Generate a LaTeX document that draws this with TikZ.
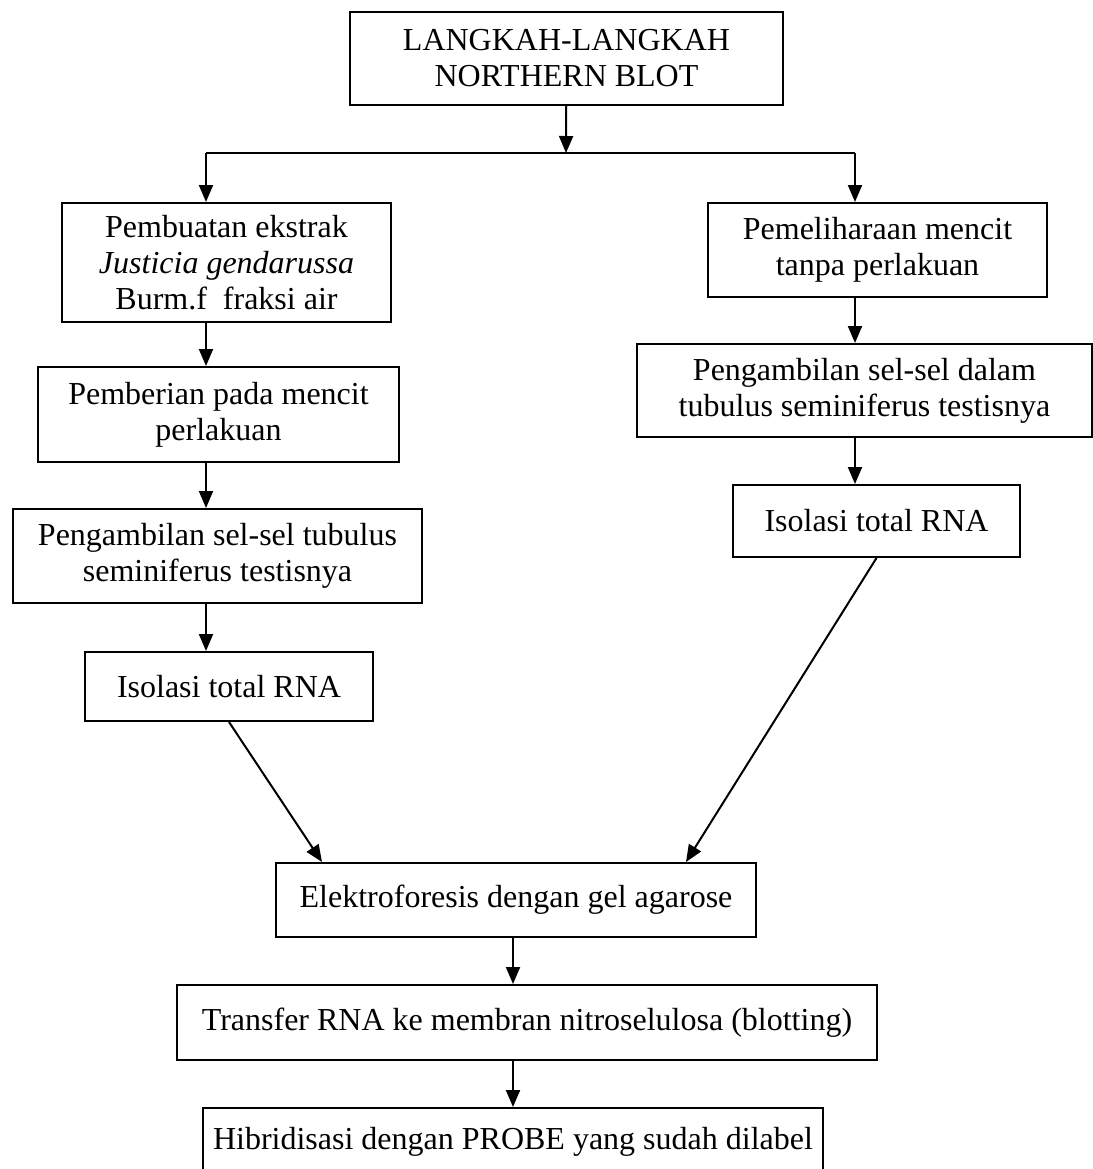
\documentclass[tikz,border=0pt]{standalone}
\usepackage{fontspec}
\setmainfont{Liberation Serif}
\usetikzlibrary{arrows.meta}

\begin{document}
\begin{tikzpicture}
	[
	x=0.5pt, y=-0.5pt,
	align=center,
	font=\fontsize{16}{18}\selectfont,
	box/.style={draw, line width=1pt, rectangle, inner sep=0pt},
	arr/.style={line width=1pt, -{Triangle[length=8.5pt,width=7pt]}},
	]
		\useasboundingbox (0,0) rectangle (1093,1169);

		% title
		\node[box, minimum width=216.5pt, minimum height=46.5pt] (top) at 	( 566.5,  58.5 ) {LANGKAH-LANGKAH\\NORTHERN BLOT};

		% left-hand side
		\node[box, minimum width=164.5pt, minimum height=59.5pt] (l1) at 	( 226.5, 262.5 ) {\raisebox{-2pt}{Pembuatan ekstrak}\\\raisebox{-2pt}{\textit{Justicia gendarussa}}\\\raisebox{-2pt}{Burm.f\ \ fraksi air}};
		\node[box, minimum width=180.5pt, minimum height=47.5pt] (l2) at 	( 218.5, 414.5 ) {Pemberian pada mencit\\perlakuan};
		\node[box, minimum width=204.5pt, minimum height=47pt] (l3) at 		( 217.5, 556.0 ) {Pengambilan sel-sel tubulus\\seminiferus testisnya};
		\node[box, minimum width=144pt, minimum height=34.5pt] (l4) at 		( 229.0, 686.5 ) {Isolasi total RNA};

		% right-hand side
		\node[box, minimum width=169.5pt, minimum height=47pt] (r1) at 		( 877.5, 250.0 ) {Pemeliharaan mencit\\tanpa perlakuan};
		\node[box, minimum width=227.5pt, minimum height=46.5pt] (r2) at 	( 864.5, 390.5 ) {Pengambilan sel-sel dalam\\tubulus seminiferus testisnya};
		\node[box, minimum width=143.5pt, minimum height=36pt] (r3) at 		( 876.5, 521.0 ) {Isolasi total RNA};

		% common steps
		\node[box, minimum width=240pt, minimum height=37pt] (el) at 		( 516.0, 900.0 ) {Elektroforesis dengan gel agarose};
		\node[box, minimum width=350pt, minimum height=37.5pt] (tr) at 		( 527.0, 1022.5 ) {Transfer RNA ke membran nitroselulosa (blotting)};
		\node[box, minimum width=310pt, minimum height=34pt] (hb) at 		( 513.0, 1142.0 ) {Hibridisasi dengan PROBE yang sudah dilabel};

		% branch
		\coordinate (sm) at ( 566, 153 );
		\coordinate (sl) at ( 206, 153 );
		\coordinate (sr) at ( 855, 153 );
		\coordinate (sb) at ( 513, 153 );

		\draw[arr] (top) -- (sm);
		\draw[line width=1pt] (sl) -- (sr);
		\draw[arr] (sl) -- (l1.north -| sl);
		\draw[arr] (sr) -- (r1.north -| sr);

		\foreach \from/\to in {l1/l2,l2/l3,l3/l4} \draw[arr] (\from.south -| sl) -- (\to.north -| sl);
		\foreach \from/\to in {r1/r2,r2/r3} \draw[arr] (\from.south -| sr) -- (\to.north -| sr);
		\foreach \from/\to in {el/tr,tr/hb} \draw[arr] (\from.south -| sb) -- (\to.north -| sb);

		\draw[arr] (l4.south) -- ([xshift=23.5pt]el.north west);
		\draw[arr] (r3.south) -- ([xshift=-35.5pt]el.north east);

	\end{tikzpicture}
\end{document}
